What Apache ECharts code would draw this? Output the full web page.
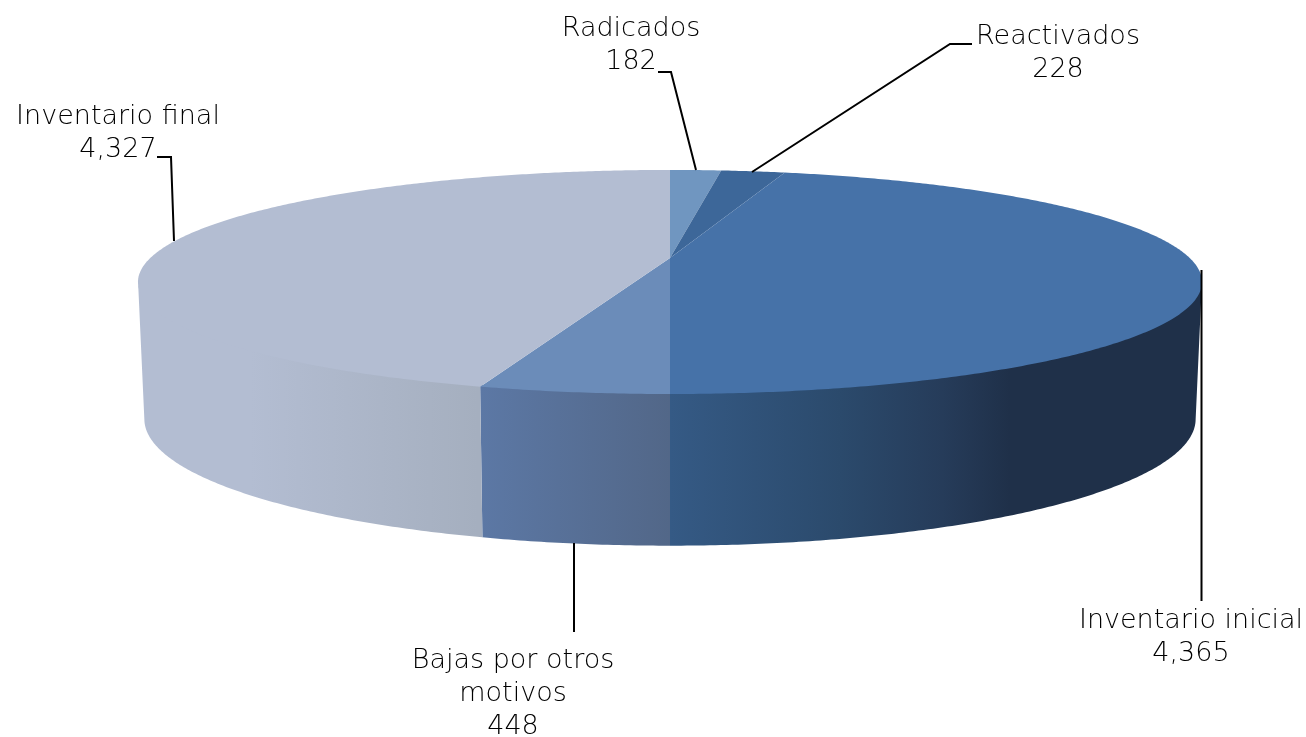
<!DOCTYPE html>
<html><head><meta charset="utf-8">
<script src="https://cdn.jsdelivr.net/npm/echarts@6/dist/echarts.min.js"></script>
<style>html,body{margin:0;padding:0;background:#fff}#c{width:1306px;height:737px}</style>
</head><body><div id="c"></div>
<script>
const categories = ['Radicados','Reactivados','Inventario inicial','Bajas por otros\nmotivos','Inventario final'];
const values = [182,228,4365,448,4327];
const topColors = ['#7096C0','#3D6799','#4672A8','#6B8CB9','#B3BDD2'];
const wallStops = [
  [[0,'#33557F']],[[0,'#33557F']],
  [[0,'#355A85'],[0.5,'#2B4A6C'],[0.8,'#263C5A'],[1,'#1F3049']],
  [[0,'#5C78A5'],[1,'#526788']],
  [[0,'#B3BDD2'],[1,'#A5AFBF']]
];
const wallRanges = [[670,1200],[670,1200],[670,1010],[480,670],[250,478]];
const labelPos = {0:[631,45],1:[1058,53],2:[1191,637],3:[513,694],4:[118,133]};
const leaders = {
  0:[[658,72],[671,72],[696,170]],
  1:[[972,44],[950,44],[752,172]],
  2:[[1201.5,270],[1201.5,601]],
  3:[[574,543],[574,632]],
  4:[[157,157],[171,157],[174,241]]
};
// projection of the pie disc: perspective ring for the top face and the lower rim
const CX=670, AY=258, A=519.7, B=106.9, K=0.214, XS=0.988, LOW_AY=392, LOW_YS=1.13;
const total = values.reduce((a,b)=>a+b,0);
const starts=[]; values.reduce((acc,v,i)=>{starts[i]=acc;return acc+v;},0);
const deg=v=>v/total*360;
function topPt(t){const r=t*Math.PI/180,u=Math.sin(r),v=-Math.cos(r),w=1-K*v;return [CX+A*u/w,AY+B*v/w];}
function wallTopPt(t){const p=topPt(t);return [p[0],p[1]-2];}
function lowPt(t){const p=topPt(t);return [CX+(p[0]-CX)*XS,LOW_AY+(p[1]-AY)*LOW_YS];}
function arc(f,a,b){const n=Math.max(2,Math.ceil(Math.abs(b-a)/0.5)),o=[];for(let i=0;i<=n;i++)o.push(f(a+(b-a)*i/n));return o;}
const SIL=[102.4,257.6];

const chart=echarts.init(document.getElementById('c'));
chart.setOption({
  animation:false,
  series:[
   {type:'custom',coordinateSystem:'none',z:1,silent:true,data:values.map(v=>[v]),
    renderItem(p,api){
      const i=p.dataIndex,a=deg(starts[i]),b=a+deg(api.value(0));
      const s=Math.max(a,SIL[0]),e=Math.min(b,SIL[1]);
      if(e<=s)return {type:'group',children:[]};
      const pts=arc(wallTopPt,s,e).concat(arc(lowPt,e,s));
      const fill={type:'linear',x:wallRanges[i][0],y:0,x2:wallRanges[i][1],y2:0,global:true,
        colorStops:wallStops[i].map(c=>({offset:c[0],color:c[1]}))};
      return {type:'polygon',shape:{points:pts},style:{fill}};
    }},
   {type:'custom',coordinateSystem:'none',z:2,silent:true,data:values.map(v=>[v]),
    renderItem(p,api){
      const i=p.dataIndex,a=deg(starts[i]),b=a+deg(api.value(0));
      const pts=[[CX,AY]].concat(arc(topPt,a,b));
      return {type:'polygon',shape:{points:pts},style:{fill:topColors[i]}};
    }},
   {type:'custom',coordinateSystem:'none',z:3,silent:true,data:values.map(v=>[v]),
    renderItem(p,api){
      const i=p.dataIndex;
      return {type:'group',children:[
        {type:'polyline',shape:{points:leaders[i]},style:{fill:'none',stroke:'#000',lineWidth:2}},
        {type:'text',style:{x:labelPos[i][0],y:labelPos[i][1],text:categories[i]+'\n'+api.value(0).toLocaleString('en-US'),
          align:'center',verticalAlign:'middle',lineHeight:33,fill:'#000',
          fontFamily:'"DejaVu Sans"',fontWeight:200,fontSize:27}}
      ]};
    }}
  ]
});
</script></body></html>
